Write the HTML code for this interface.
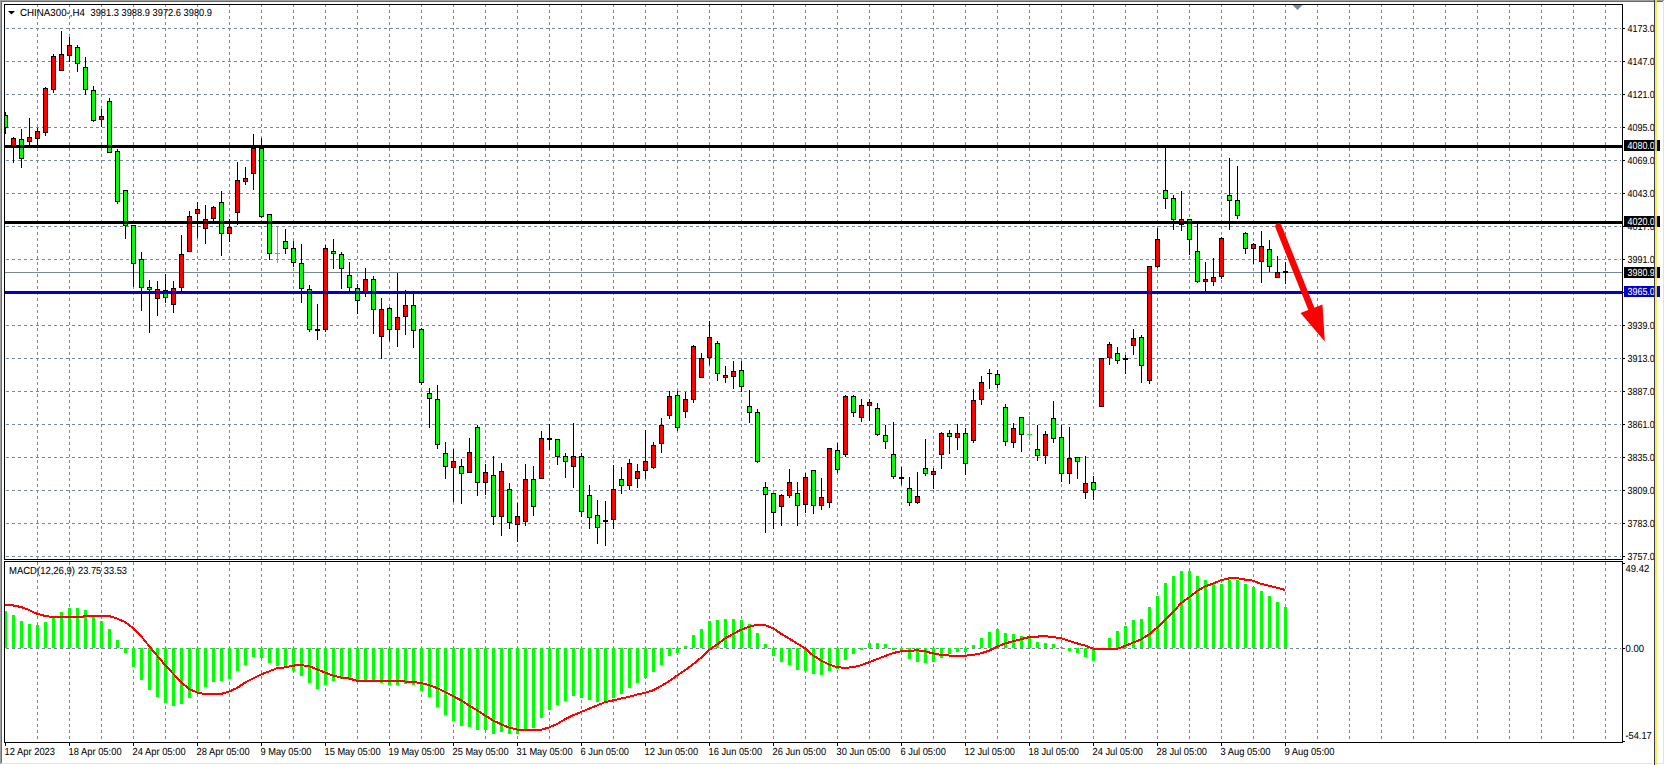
<!DOCTYPE html>
<html><head><meta charset="utf-8"><style>
html,body{margin:0;padding:0;background:#fff;}
body{width:1665px;height:765px;overflow:hidden;position:relative;}
</style></head><body>
<svg width="1665" height="765" viewBox="0 0 1665 765" shape-rendering="crispEdges" style="position:absolute;left:0;top:0"><rect x="0" y="0" width="1665" height="765" fill="#ffffff"/><defs><clipPath id="cm"><rect x="5" y="5" width="1617" height="554"/></clipPath><clipPath id="cd"><rect x="5" y="562" width="1617" height="180"/></clipPath><clipPath id="cax"><rect x="1623" y="0" width="31" height="765"/></clipPath></defs><g clip-path="url(#cm)"><line x1="37.5" y1="4" x2="37.5" y2="559" stroke="#778899" stroke-width="1" stroke-dasharray="3 3"/><line x1="69.5" y1="4" x2="69.5" y2="559" stroke="#778899" stroke-width="1" stroke-dasharray="3 3"/><line x1="101.5" y1="4" x2="101.5" y2="559" stroke="#778899" stroke-width="1" stroke-dasharray="3 3"/><line x1="133.5" y1="4" x2="133.5" y2="559" stroke="#778899" stroke-width="1" stroke-dasharray="3 3"/><line x1="165.5" y1="4" x2="165.5" y2="559" stroke="#778899" stroke-width="1" stroke-dasharray="3 3"/><line x1="197.5" y1="4" x2="197.5" y2="559" stroke="#778899" stroke-width="1" stroke-dasharray="3 3"/><line x1="229.5" y1="4" x2="229.5" y2="559" stroke="#778899" stroke-width="1" stroke-dasharray="3 3"/><line x1="261.5" y1="4" x2="261.5" y2="559" stroke="#778899" stroke-width="1" stroke-dasharray="3 3"/><line x1="293.5" y1="4" x2="293.5" y2="559" stroke="#778899" stroke-width="1" stroke-dasharray="3 3"/><line x1="325.5" y1="4" x2="325.5" y2="559" stroke="#778899" stroke-width="1" stroke-dasharray="3 3"/><line x1="357.5" y1="4" x2="357.5" y2="559" stroke="#778899" stroke-width="1" stroke-dasharray="3 3"/><line x1="389.5" y1="4" x2="389.5" y2="559" stroke="#778899" stroke-width="1" stroke-dasharray="3 3"/><line x1="421.5" y1="4" x2="421.5" y2="559" stroke="#778899" stroke-width="1" stroke-dasharray="3 3"/><line x1="453.5" y1="4" x2="453.5" y2="559" stroke="#778899" stroke-width="1" stroke-dasharray="3 3"/><line x1="485.5" y1="4" x2="485.5" y2="559" stroke="#778899" stroke-width="1" stroke-dasharray="3 3"/><line x1="517.5" y1="4" x2="517.5" y2="559" stroke="#778899" stroke-width="1" stroke-dasharray="3 3"/><line x1="549.5" y1="4" x2="549.5" y2="559" stroke="#778899" stroke-width="1" stroke-dasharray="3 3"/><line x1="581.5" y1="4" x2="581.5" y2="559" stroke="#778899" stroke-width="1" stroke-dasharray="3 3"/><line x1="613.5" y1="4" x2="613.5" y2="559" stroke="#778899" stroke-width="1" stroke-dasharray="3 3"/><line x1="645.5" y1="4" x2="645.5" y2="559" stroke="#778899" stroke-width="1" stroke-dasharray="3 3"/><line x1="677.5" y1="4" x2="677.5" y2="559" stroke="#778899" stroke-width="1" stroke-dasharray="3 3"/><line x1="709.5" y1="4" x2="709.5" y2="559" stroke="#778899" stroke-width="1" stroke-dasharray="3 3"/><line x1="741.5" y1="4" x2="741.5" y2="559" stroke="#778899" stroke-width="1" stroke-dasharray="3 3"/><line x1="773.5" y1="4" x2="773.5" y2="559" stroke="#778899" stroke-width="1" stroke-dasharray="3 3"/><line x1="805.5" y1="4" x2="805.5" y2="559" stroke="#778899" stroke-width="1" stroke-dasharray="3 3"/><line x1="837.5" y1="4" x2="837.5" y2="559" stroke="#778899" stroke-width="1" stroke-dasharray="3 3"/><line x1="869.5" y1="4" x2="869.5" y2="559" stroke="#778899" stroke-width="1" stroke-dasharray="3 3"/><line x1="901.5" y1="4" x2="901.5" y2="559" stroke="#778899" stroke-width="1" stroke-dasharray="3 3"/><line x1="933.5" y1="4" x2="933.5" y2="559" stroke="#778899" stroke-width="1" stroke-dasharray="3 3"/><line x1="965.5" y1="4" x2="965.5" y2="559" stroke="#778899" stroke-width="1" stroke-dasharray="3 3"/><line x1="997.5" y1="4" x2="997.5" y2="559" stroke="#778899" stroke-width="1" stroke-dasharray="3 3"/><line x1="1029.5" y1="4" x2="1029.5" y2="559" stroke="#778899" stroke-width="1" stroke-dasharray="3 3"/><line x1="1061.5" y1="4" x2="1061.5" y2="559" stroke="#778899" stroke-width="1" stroke-dasharray="3 3"/><line x1="1093.5" y1="4" x2="1093.5" y2="559" stroke="#778899" stroke-width="1" stroke-dasharray="3 3"/><line x1="1125.5" y1="4" x2="1125.5" y2="559" stroke="#778899" stroke-width="1" stroke-dasharray="3 3"/><line x1="1157.5" y1="4" x2="1157.5" y2="559" stroke="#778899" stroke-width="1" stroke-dasharray="3 3"/><line x1="1189.5" y1="4" x2="1189.5" y2="559" stroke="#778899" stroke-width="1" stroke-dasharray="3 3"/><line x1="1221.5" y1="4" x2="1221.5" y2="559" stroke="#778899" stroke-width="1" stroke-dasharray="3 3"/><line x1="1253.5" y1="4" x2="1253.5" y2="559" stroke="#778899" stroke-width="1" stroke-dasharray="3 3"/><line x1="1285.5" y1="4" x2="1285.5" y2="559" stroke="#778899" stroke-width="1" stroke-dasharray="3 3"/><line x1="1317.5" y1="4" x2="1317.5" y2="559" stroke="#778899" stroke-width="1" stroke-dasharray="3 3"/><line x1="1349.5" y1="4" x2="1349.5" y2="559" stroke="#778899" stroke-width="1" stroke-dasharray="3 3"/><line x1="1381.5" y1="4" x2="1381.5" y2="559" stroke="#778899" stroke-width="1" stroke-dasharray="3 3"/><line x1="1413.5" y1="4" x2="1413.5" y2="559" stroke="#778899" stroke-width="1" stroke-dasharray="3 3"/><line x1="1445.5" y1="4" x2="1445.5" y2="559" stroke="#778899" stroke-width="1" stroke-dasharray="3 3"/><line x1="1477.5" y1="4" x2="1477.5" y2="559" stroke="#778899" stroke-width="1" stroke-dasharray="3 3"/><line x1="1509.5" y1="4" x2="1509.5" y2="559" stroke="#778899" stroke-width="1" stroke-dasharray="3 3"/><line x1="1541.5" y1="4" x2="1541.5" y2="559" stroke="#778899" stroke-width="1" stroke-dasharray="3 3"/><line x1="1573.5" y1="4" x2="1573.5" y2="559" stroke="#778899" stroke-width="1" stroke-dasharray="3 3"/><line x1="1605.5" y1="4" x2="1605.5" y2="559" stroke="#778899" stroke-width="1" stroke-dasharray="3 3"/><line x1="0" y1="28.5" x2="1621" y2="28.5" stroke="#778899" stroke-width="1" stroke-dasharray="3 3"/><line x1="0" y1="61.5" x2="1621" y2="61.5" stroke="#778899" stroke-width="1" stroke-dasharray="3 3"/><line x1="0" y1="94.5" x2="1621" y2="94.5" stroke="#778899" stroke-width="1" stroke-dasharray="3 3"/><line x1="0" y1="127.5" x2="1621" y2="127.5" stroke="#778899" stroke-width="1" stroke-dasharray="3 3"/><line x1="0" y1="160.5" x2="1621" y2="160.5" stroke="#778899" stroke-width="1" stroke-dasharray="3 3"/><line x1="0" y1="193.5" x2="1621" y2="193.5" stroke="#778899" stroke-width="1" stroke-dasharray="3 3"/><line x1="0" y1="226.5" x2="1621" y2="226.5" stroke="#778899" stroke-width="1" stroke-dasharray="3 3"/><line x1="0" y1="259.5" x2="1621" y2="259.5" stroke="#778899" stroke-width="1" stroke-dasharray="3 3"/><line x1="0" y1="292.5" x2="1621" y2="292.5" stroke="#778899" stroke-width="1" stroke-dasharray="3 3"/><line x1="0" y1="325.5" x2="1621" y2="325.5" stroke="#778899" stroke-width="1" stroke-dasharray="3 3"/><line x1="0" y1="358.5" x2="1621" y2="358.5" stroke="#778899" stroke-width="1" stroke-dasharray="3 3"/><line x1="0" y1="391.5" x2="1621" y2="391.5" stroke="#778899" stroke-width="1" stroke-dasharray="3 3"/><line x1="0" y1="424.5" x2="1621" y2="424.5" stroke="#778899" stroke-width="1" stroke-dasharray="3 3"/><line x1="0" y1="457.5" x2="1621" y2="457.5" stroke="#778899" stroke-width="1" stroke-dasharray="3 3"/><line x1="0" y1="490.5" x2="1621" y2="490.5" stroke="#778899" stroke-width="1" stroke-dasharray="3 3"/><line x1="0" y1="523.5" x2="1621" y2="523.5" stroke="#778899" stroke-width="1" stroke-dasharray="3 3"/><line x1="0" y1="556.5" x2="1621" y2="556.5" stroke="#778899" stroke-width="1" stroke-dasharray="3 3"/></g><g clip-path="url(#cd)"><line x1="37.5" y1="562" x2="37.5" y2="742" stroke="#778899" stroke-width="1" stroke-dasharray="3 3"/><line x1="69.5" y1="562" x2="69.5" y2="742" stroke="#778899" stroke-width="1" stroke-dasharray="3 3"/><line x1="101.5" y1="562" x2="101.5" y2="742" stroke="#778899" stroke-width="1" stroke-dasharray="3 3"/><line x1="133.5" y1="562" x2="133.5" y2="742" stroke="#778899" stroke-width="1" stroke-dasharray="3 3"/><line x1="165.5" y1="562" x2="165.5" y2="742" stroke="#778899" stroke-width="1" stroke-dasharray="3 3"/><line x1="197.5" y1="562" x2="197.5" y2="742" stroke="#778899" stroke-width="1" stroke-dasharray="3 3"/><line x1="229.5" y1="562" x2="229.5" y2="742" stroke="#778899" stroke-width="1" stroke-dasharray="3 3"/><line x1="261.5" y1="562" x2="261.5" y2="742" stroke="#778899" stroke-width="1" stroke-dasharray="3 3"/><line x1="293.5" y1="562" x2="293.5" y2="742" stroke="#778899" stroke-width="1" stroke-dasharray="3 3"/><line x1="325.5" y1="562" x2="325.5" y2="742" stroke="#778899" stroke-width="1" stroke-dasharray="3 3"/><line x1="357.5" y1="562" x2="357.5" y2="742" stroke="#778899" stroke-width="1" stroke-dasharray="3 3"/><line x1="389.5" y1="562" x2="389.5" y2="742" stroke="#778899" stroke-width="1" stroke-dasharray="3 3"/><line x1="421.5" y1="562" x2="421.5" y2="742" stroke="#778899" stroke-width="1" stroke-dasharray="3 3"/><line x1="453.5" y1="562" x2="453.5" y2="742" stroke="#778899" stroke-width="1" stroke-dasharray="3 3"/><line x1="485.5" y1="562" x2="485.5" y2="742" stroke="#778899" stroke-width="1" stroke-dasharray="3 3"/><line x1="517.5" y1="562" x2="517.5" y2="742" stroke="#778899" stroke-width="1" stroke-dasharray="3 3"/><line x1="549.5" y1="562" x2="549.5" y2="742" stroke="#778899" stroke-width="1" stroke-dasharray="3 3"/><line x1="581.5" y1="562" x2="581.5" y2="742" stroke="#778899" stroke-width="1" stroke-dasharray="3 3"/><line x1="613.5" y1="562" x2="613.5" y2="742" stroke="#778899" stroke-width="1" stroke-dasharray="3 3"/><line x1="645.5" y1="562" x2="645.5" y2="742" stroke="#778899" stroke-width="1" stroke-dasharray="3 3"/><line x1="677.5" y1="562" x2="677.5" y2="742" stroke="#778899" stroke-width="1" stroke-dasharray="3 3"/><line x1="709.5" y1="562" x2="709.5" y2="742" stroke="#778899" stroke-width="1" stroke-dasharray="3 3"/><line x1="741.5" y1="562" x2="741.5" y2="742" stroke="#778899" stroke-width="1" stroke-dasharray="3 3"/><line x1="773.5" y1="562" x2="773.5" y2="742" stroke="#778899" stroke-width="1" stroke-dasharray="3 3"/><line x1="805.5" y1="562" x2="805.5" y2="742" stroke="#778899" stroke-width="1" stroke-dasharray="3 3"/><line x1="837.5" y1="562" x2="837.5" y2="742" stroke="#778899" stroke-width="1" stroke-dasharray="3 3"/><line x1="869.5" y1="562" x2="869.5" y2="742" stroke="#778899" stroke-width="1" stroke-dasharray="3 3"/><line x1="901.5" y1="562" x2="901.5" y2="742" stroke="#778899" stroke-width="1" stroke-dasharray="3 3"/><line x1="933.5" y1="562" x2="933.5" y2="742" stroke="#778899" stroke-width="1" stroke-dasharray="3 3"/><line x1="965.5" y1="562" x2="965.5" y2="742" stroke="#778899" stroke-width="1" stroke-dasharray="3 3"/><line x1="997.5" y1="562" x2="997.5" y2="742" stroke="#778899" stroke-width="1" stroke-dasharray="3 3"/><line x1="1029.5" y1="562" x2="1029.5" y2="742" stroke="#778899" stroke-width="1" stroke-dasharray="3 3"/><line x1="1061.5" y1="562" x2="1061.5" y2="742" stroke="#778899" stroke-width="1" stroke-dasharray="3 3"/><line x1="1093.5" y1="562" x2="1093.5" y2="742" stroke="#778899" stroke-width="1" stroke-dasharray="3 3"/><line x1="1125.5" y1="562" x2="1125.5" y2="742" stroke="#778899" stroke-width="1" stroke-dasharray="3 3"/><line x1="1157.5" y1="562" x2="1157.5" y2="742" stroke="#778899" stroke-width="1" stroke-dasharray="3 3"/><line x1="1189.5" y1="562" x2="1189.5" y2="742" stroke="#778899" stroke-width="1" stroke-dasharray="3 3"/><line x1="1221.5" y1="562" x2="1221.5" y2="742" stroke="#778899" stroke-width="1" stroke-dasharray="3 3"/><line x1="1253.5" y1="562" x2="1253.5" y2="742" stroke="#778899" stroke-width="1" stroke-dasharray="3 3"/><line x1="1285.5" y1="562" x2="1285.5" y2="742" stroke="#778899" stroke-width="1" stroke-dasharray="3 3"/><line x1="1317.5" y1="562" x2="1317.5" y2="742" stroke="#778899" stroke-width="1" stroke-dasharray="3 3"/><line x1="1349.5" y1="562" x2="1349.5" y2="742" stroke="#778899" stroke-width="1" stroke-dasharray="3 3"/><line x1="1381.5" y1="562" x2="1381.5" y2="742" stroke="#778899" stroke-width="1" stroke-dasharray="3 3"/><line x1="1413.5" y1="562" x2="1413.5" y2="742" stroke="#778899" stroke-width="1" stroke-dasharray="3 3"/><line x1="1445.5" y1="562" x2="1445.5" y2="742" stroke="#778899" stroke-width="1" stroke-dasharray="3 3"/><line x1="1477.5" y1="562" x2="1477.5" y2="742" stroke="#778899" stroke-width="1" stroke-dasharray="3 3"/><line x1="1509.5" y1="562" x2="1509.5" y2="742" stroke="#778899" stroke-width="1" stroke-dasharray="3 3"/><line x1="1541.5" y1="562" x2="1541.5" y2="742" stroke="#778899" stroke-width="1" stroke-dasharray="3 3"/><line x1="1573.5" y1="562" x2="1573.5" y2="742" stroke="#778899" stroke-width="1" stroke-dasharray="3 3"/><line x1="1605.5" y1="562" x2="1605.5" y2="742" stroke="#778899" stroke-width="1" stroke-dasharray="3 3"/><line x1="0" y1="648.5" x2="1621" y2="648.5" stroke="#778899" stroke-width="1" stroke-dasharray="3 3"/></g><rect x="5" y="272" width="1617" height="1" fill="#778899"/><g clip-path="url(#cm)"><rect x="5" y="112" width="1" height="22" fill="#000"/><rect x="3" y="115" width="5" height="13" fill="#000"/><rect x="4" y="116" width="3" height="11" fill="#00ff00"/><rect x="13" y="137" width="1" height="26" fill="#000"/><rect x="11" y="138" width="5" height="8" fill="#000"/><rect x="12" y="139" width="3" height="6" fill="#ff0000"/><rect x="21" y="129" width="1" height="39" fill="#000"/><rect x="19" y="139" width="5" height="20" fill="#000"/><rect x="20" y="140" width="3" height="18" fill="#00ff00"/><rect x="29" y="118" width="1" height="28" fill="#000"/><rect x="27" y="137" width="5" height="5" fill="#000"/><rect x="28" y="138" width="3" height="3" fill="#ff0000"/><rect x="37" y="128" width="1" height="18" fill="#000"/><rect x="35" y="131" width="5" height="8" fill="#000"/><rect x="36" y="132" width="3" height="6" fill="#ff0000"/><rect x="45" y="87" width="1" height="49" fill="#000"/><rect x="43" y="88" width="5" height="45" fill="#000"/><rect x="44" y="89" width="3" height="43" fill="#ff0000"/><rect x="53" y="54" width="1" height="39" fill="#000"/><rect x="51" y="56" width="5" height="34" fill="#000"/><rect x="52" y="57" width="3" height="32" fill="#ff0000"/><rect x="61" y="31" width="1" height="40" fill="#000"/><rect x="59" y="54" width="5" height="17" fill="#000"/><rect x="60" y="55" width="3" height="15" fill="#ff0000"/><rect x="69" y="37" width="1" height="25" fill="#000"/><rect x="67" y="45" width="5" height="11" fill="#000"/><rect x="68" y="46" width="3" height="9" fill="#ff0000"/><rect x="77" y="45" width="1" height="27" fill="#000"/><rect x="75" y="47" width="5" height="17" fill="#000"/><rect x="76" y="48" width="3" height="15" fill="#00ff00"/><rect x="85" y="57" width="1" height="38" fill="#000"/><rect x="83" y="67" width="5" height="23" fill="#000"/><rect x="84" y="68" width="3" height="21" fill="#00ff00"/><rect x="93" y="86" width="1" height="36" fill="#000"/><rect x="91" y="90" width="5" height="31" fill="#000"/><rect x="92" y="91" width="3" height="29" fill="#00ff00"/><rect x="101" y="109" width="1" height="18" fill="#000"/><rect x="99" y="116" width="5" height="4" fill="#000"/><rect x="100" y="117" width="3" height="2" fill="#ff0000"/><rect x="109" y="98" width="1" height="55" fill="#000"/><rect x="107" y="101" width="5" height="52" fill="#000"/><rect x="108" y="102" width="3" height="50" fill="#00ff00"/><rect x="117" y="149" width="1" height="55" fill="#000"/><rect x="115" y="151" width="5" height="51" fill="#000"/><rect x="116" y="152" width="3" height="49" fill="#00ff00"/><rect x="125" y="190" width="1" height="49" fill="#000"/><rect x="123" y="190" width="5" height="36" fill="#000"/><rect x="124" y="191" width="3" height="34" fill="#00ff00"/><rect x="133" y="225" width="1" height="62" fill="#000"/><rect x="131" y="225" width="5" height="39" fill="#000"/><rect x="132" y="226" width="3" height="37" fill="#00ff00"/><rect x="141" y="252" width="1" height="59" fill="#000"/><rect x="139" y="259" width="5" height="29" fill="#000"/><rect x="140" y="260" width="3" height="27" fill="#00ff00"/><rect x="149" y="280" width="1" height="53" fill="#000"/><rect x="147" y="287" width="5" height="3" fill="#000"/><rect x="148" y="288" width="3" height="1" fill="#00ff00"/><rect x="157" y="281" width="1" height="35" fill="#000"/><rect x="155" y="289" width="5" height="10" fill="#000"/><rect x="156" y="290" width="3" height="8" fill="#ff0000"/><rect x="165" y="274" width="1" height="29" fill="#000"/><rect x="163" y="290" width="5" height="8" fill="#000"/><rect x="164" y="291" width="3" height="6" fill="#00ff00"/><rect x="173" y="281" width="1" height="32" fill="#000"/><rect x="171" y="288" width="5" height="17" fill="#000"/><rect x="172" y="289" width="3" height="15" fill="#ff0000"/><rect x="181" y="235" width="1" height="58" fill="#000"/><rect x="179" y="254" width="5" height="34" fill="#000"/><rect x="180" y="255" width="3" height="32" fill="#ff0000"/><rect x="189" y="211" width="1" height="41" fill="#000"/><rect x="187" y="216" width="5" height="36" fill="#000"/><rect x="188" y="217" width="3" height="34" fill="#ff0000"/><rect x="197" y="202" width="1" height="36" fill="#000"/><rect x="195" y="209" width="5" height="5" fill="#000"/><rect x="196" y="210" width="3" height="3" fill="#ff0000"/><rect x="205" y="205" width="1" height="39" fill="#000"/><rect x="203" y="219" width="5" height="10" fill="#000"/><rect x="204" y="220" width="3" height="8" fill="#ff0000"/><rect x="213" y="206" width="1" height="15" fill="#000"/><rect x="211" y="207" width="5" height="12" fill="#000"/><rect x="212" y="208" width="3" height="10" fill="#ff0000"/><rect x="221" y="191" width="1" height="65" fill="#000"/><rect x="219" y="202" width="5" height="32" fill="#000"/><rect x="220" y="203" width="3" height="30" fill="#00ff00"/><rect x="229" y="219" width="1" height="23" fill="#000"/><rect x="227" y="227" width="5" height="7" fill="#000"/><rect x="228" y="228" width="3" height="5" fill="#ff0000"/><rect x="237" y="162" width="1" height="63" fill="#000"/><rect x="235" y="180" width="5" height="33" fill="#000"/><rect x="236" y="181" width="3" height="31" fill="#ff0000"/><rect x="245" y="167" width="1" height="18" fill="#000"/><rect x="243" y="178" width="5" height="4" fill="#000"/><rect x="244" y="179" width="3" height="2" fill="#ff0000"/><rect x="253" y="134" width="1" height="56" fill="#000"/><rect x="251" y="148" width="5" height="26" fill="#000"/><rect x="252" y="149" width="3" height="24" fill="#ff0000"/><rect x="261" y="138" width="1" height="80" fill="#000"/><rect x="259" y="148" width="5" height="69" fill="#000"/><rect x="260" y="149" width="3" height="67" fill="#00ff00"/><rect x="269" y="214" width="1" height="46" fill="#000"/><rect x="267" y="214" width="5" height="40" fill="#000"/><rect x="268" y="215" width="3" height="38" fill="#00ff00"/><rect x="277" y="226" width="1" height="37" fill="#00ff00"/><rect x="275" y="253" width="5" height="1" fill="#00ff00"/><rect x="285" y="229" width="1" height="25" fill="#000"/><rect x="283" y="241" width="5" height="8" fill="#000"/><rect x="284" y="242" width="3" height="6" fill="#00ff00"/><rect x="293" y="241" width="1" height="26" fill="#000"/><rect x="291" y="248" width="5" height="15" fill="#000"/><rect x="292" y="249" width="3" height="13" fill="#00ff00"/><rect x="301" y="244" width="1" height="59" fill="#000"/><rect x="299" y="263" width="5" height="26" fill="#000"/><rect x="300" y="264" width="3" height="24" fill="#00ff00"/><rect x="309" y="285" width="1" height="47" fill="#000"/><rect x="307" y="289" width="5" height="41" fill="#000"/><rect x="308" y="290" width="3" height="39" fill="#00ff00"/><rect x="317" y="304" width="1" height="36" fill="#000"/><rect x="315" y="329" width="5" height="2" fill="#000"/><rect x="325" y="245" width="1" height="87" fill="#000"/><rect x="323" y="248" width="5" height="82" fill="#000"/><rect x="324" y="249" width="3" height="80" fill="#ff0000"/><rect x="333" y="239" width="1" height="30" fill="#000"/><rect x="331" y="251" width="5" height="3" fill="#000"/><rect x="332" y="252" width="3" height="1" fill="#00ff00"/><rect x="341" y="252" width="1" height="37" fill="#000"/><rect x="339" y="254" width="5" height="15" fill="#000"/><rect x="340" y="255" width="3" height="13" fill="#00ff00"/><rect x="349" y="262" width="1" height="30" fill="#000"/><rect x="347" y="275" width="5" height="13" fill="#000"/><rect x="348" y="276" width="3" height="11" fill="#00ff00"/><rect x="357" y="284" width="1" height="30" fill="#000"/><rect x="355" y="288" width="5" height="13" fill="#000"/><rect x="356" y="289" width="3" height="11" fill="#00ff00"/><rect x="365" y="268" width="1" height="29" fill="#000"/><rect x="363" y="279" width="5" height="13" fill="#000"/><rect x="364" y="280" width="3" height="11" fill="#ff0000"/><rect x="373" y="276" width="1" height="58" fill="#000"/><rect x="371" y="279" width="5" height="31" fill="#000"/><rect x="372" y="280" width="3" height="29" fill="#00ff00"/><rect x="381" y="298" width="1" height="61" fill="#000"/><rect x="379" y="309" width="5" height="28" fill="#000"/><rect x="380" y="310" width="3" height="26" fill="#ff0000"/><rect x="389" y="307" width="1" height="34" fill="#000"/><rect x="387" y="308" width="5" height="22" fill="#000"/><rect x="388" y="309" width="3" height="20" fill="#00ff00"/><rect x="397" y="273" width="1" height="74" fill="#000"/><rect x="395" y="317" width="5" height="13" fill="#000"/><rect x="396" y="318" width="3" height="11" fill="#ff0000"/><rect x="405" y="290" width="1" height="45" fill="#000"/><rect x="403" y="305" width="5" height="12" fill="#000"/><rect x="404" y="306" width="3" height="10" fill="#ff0000"/><rect x="413" y="292" width="1" height="56" fill="#000"/><rect x="411" y="305" width="5" height="26" fill="#000"/><rect x="412" y="306" width="3" height="24" fill="#00ff00"/><rect x="421" y="328" width="1" height="57" fill="#000"/><rect x="419" y="329" width="5" height="54" fill="#000"/><rect x="420" y="330" width="3" height="52" fill="#00ff00"/><rect x="429" y="388" width="1" height="40" fill="#000"/><rect x="427" y="393" width="5" height="6" fill="#000"/><rect x="428" y="394" width="3" height="4" fill="#00ff00"/><rect x="437" y="385" width="1" height="64" fill="#000"/><rect x="435" y="399" width="5" height="46" fill="#000"/><rect x="436" y="400" width="3" height="44" fill="#00ff00"/><rect x="445" y="442" width="1" height="37" fill="#000"/><rect x="443" y="453" width="5" height="14" fill="#000"/><rect x="444" y="454" width="3" height="12" fill="#00ff00"/><rect x="453" y="449" width="1" height="53" fill="#000"/><rect x="451" y="461" width="5" height="7" fill="#000"/><rect x="452" y="462" width="3" height="5" fill="#ff0000"/><rect x="461" y="459" width="1" height="45" fill="#000"/><rect x="459" y="466" width="5" height="8" fill="#000"/><rect x="460" y="467" width="3" height="6" fill="#00ff00"/><rect x="469" y="438" width="1" height="35" fill="#000"/><rect x="467" y="452" width="5" height="21" fill="#000"/><rect x="468" y="453" width="3" height="19" fill="#ff0000"/><rect x="477" y="425" width="1" height="71" fill="#000"/><rect x="475" y="427" width="5" height="56" fill="#000"/><rect x="476" y="428" width="3" height="54" fill="#00ff00"/><rect x="485" y="464" width="1" height="31" fill="#000"/><rect x="483" y="472" width="5" height="11" fill="#000"/><rect x="484" y="473" width="3" height="9" fill="#ff0000"/><rect x="493" y="456" width="1" height="69" fill="#000"/><rect x="491" y="475" width="5" height="42" fill="#000"/><rect x="492" y="476" width="3" height="40" fill="#00ff00"/><rect x="501" y="463" width="1" height="73" fill="#000"/><rect x="499" y="471" width="5" height="46" fill="#000"/><rect x="500" y="472" width="3" height="44" fill="#ff0000"/><rect x="509" y="483" width="1" height="46" fill="#000"/><rect x="507" y="489" width="5" height="34" fill="#000"/><rect x="508" y="490" width="3" height="32" fill="#00ff00"/><rect x="517" y="503" width="1" height="39" fill="#000"/><rect x="515" y="516" width="5" height="9" fill="#000"/><rect x="516" y="517" width="3" height="7" fill="#ff0000"/><rect x="525" y="464" width="1" height="62" fill="#000"/><rect x="523" y="479" width="5" height="43" fill="#000"/><rect x="524" y="480" width="3" height="41" fill="#ff0000"/><rect x="533" y="466" width="1" height="50" fill="#000"/><rect x="531" y="479" width="5" height="28" fill="#000"/><rect x="532" y="480" width="3" height="26" fill="#00ff00"/><rect x="541" y="431" width="1" height="48" fill="#000"/><rect x="539" y="438" width="5" height="41" fill="#000"/><rect x="540" y="439" width="3" height="39" fill="#ff0000"/><rect x="549" y="424" width="1" height="26" fill="#000"/><rect x="547" y="438" width="5" height="2" fill="#000"/><rect x="557" y="439" width="1" height="26" fill="#000"/><rect x="555" y="439" width="5" height="18" fill="#000"/><rect x="556" y="440" width="3" height="16" fill="#00ff00"/><rect x="565" y="453" width="1" height="25" fill="#000"/><rect x="563" y="456" width="5" height="6" fill="#000"/><rect x="564" y="457" width="3" height="4" fill="#00ff00"/><rect x="573" y="423" width="1" height="65" fill="#000"/><rect x="571" y="456" width="5" height="11" fill="#000"/><rect x="572" y="457" width="3" height="9" fill="#ff0000"/><rect x="581" y="453" width="1" height="64" fill="#000"/><rect x="579" y="456" width="5" height="56" fill="#000"/><rect x="580" y="457" width="3" height="54" fill="#00ff00"/><rect x="589" y="485" width="1" height="44" fill="#000"/><rect x="587" y="495" width="5" height="23" fill="#000"/><rect x="588" y="496" width="3" height="21" fill="#00ff00"/><rect x="597" y="500" width="1" height="44" fill="#000"/><rect x="595" y="515" width="5" height="13" fill="#000"/><rect x="596" y="516" width="3" height="11" fill="#00ff00"/><rect x="605" y="501" width="1" height="45" fill="#000"/><rect x="603" y="520" width="5" height="2" fill="#000"/><rect x="613" y="465" width="1" height="64" fill="#000"/><rect x="611" y="489" width="5" height="31" fill="#000"/><rect x="612" y="490" width="3" height="29" fill="#ff0000"/><rect x="621" y="467" width="1" height="27" fill="#000"/><rect x="619" y="479" width="5" height="7" fill="#000"/><rect x="620" y="480" width="3" height="5" fill="#00ff00"/><rect x="629" y="459" width="1" height="31" fill="#000"/><rect x="627" y="463" width="5" height="23" fill="#000"/><rect x="628" y="464" width="3" height="21" fill="#ff0000"/><rect x="637" y="464" width="1" height="24" fill="#000"/><rect x="635" y="471" width="5" height="8" fill="#000"/><rect x="636" y="472" width="3" height="6" fill="#ff0000"/><rect x="645" y="430" width="1" height="49" fill="#000"/><rect x="643" y="461" width="5" height="10" fill="#000"/><rect x="644" y="462" width="3" height="8" fill="#ff0000"/><rect x="653" y="442" width="1" height="27" fill="#000"/><rect x="651" y="445" width="5" height="23" fill="#000"/><rect x="652" y="446" width="3" height="21" fill="#ff0000"/><rect x="661" y="418" width="1" height="35" fill="#000"/><rect x="659" y="425" width="5" height="19" fill="#000"/><rect x="660" y="426" width="3" height="17" fill="#ff0000"/><rect x="669" y="391" width="1" height="28" fill="#000"/><rect x="667" y="396" width="5" height="20" fill="#000"/><rect x="668" y="397" width="3" height="18" fill="#ff0000"/><rect x="677" y="391" width="1" height="40" fill="#000"/><rect x="675" y="395" width="5" height="33" fill="#000"/><rect x="676" y="396" width="3" height="31" fill="#00ff00"/><rect x="685" y="392" width="1" height="26" fill="#000"/><rect x="683" y="399" width="5" height="13" fill="#000"/><rect x="684" y="400" width="3" height="11" fill="#ff0000"/><rect x="693" y="345" width="1" height="58" fill="#000"/><rect x="691" y="346" width="5" height="54" fill="#000"/><rect x="692" y="347" width="3" height="52" fill="#ff0000"/><rect x="701" y="353" width="1" height="25" fill="#000"/><rect x="699" y="358" width="5" height="20" fill="#000"/><rect x="700" y="359" width="3" height="18" fill="#ff0000"/><rect x="709" y="321" width="1" height="44" fill="#000"/><rect x="707" y="337" width="5" height="21" fill="#000"/><rect x="708" y="338" width="3" height="19" fill="#ff0000"/><rect x="717" y="341" width="1" height="40" fill="#000"/><rect x="715" y="343" width="5" height="31" fill="#000"/><rect x="716" y="344" width="3" height="29" fill="#00ff00"/><rect x="725" y="366" width="1" height="17" fill="#000"/><rect x="723" y="375" width="5" height="3" fill="#000"/><rect x="724" y="376" width="3" height="1" fill="#ff0000"/><rect x="733" y="361" width="1" height="28" fill="#000"/><rect x="731" y="371" width="5" height="6" fill="#000"/><rect x="732" y="372" width="3" height="4" fill="#ff0000"/><rect x="741" y="361" width="1" height="31" fill="#000"/><rect x="739" y="370" width="5" height="17" fill="#000"/><rect x="740" y="371" width="3" height="15" fill="#00ff00"/><rect x="749" y="390" width="1" height="33" fill="#000"/><rect x="747" y="406" width="5" height="7" fill="#000"/><rect x="748" y="407" width="3" height="5" fill="#00ff00"/><rect x="757" y="409" width="1" height="54" fill="#000"/><rect x="755" y="412" width="5" height="50" fill="#000"/><rect x="756" y="413" width="3" height="48" fill="#00ff00"/><rect x="765" y="482" width="1" height="51" fill="#000"/><rect x="763" y="487" width="5" height="8" fill="#000"/><rect x="764" y="488" width="3" height="6" fill="#00ff00"/><rect x="773" y="493" width="1" height="36" fill="#000"/><rect x="771" y="493" width="5" height="20" fill="#000"/><rect x="772" y="494" width="3" height="18" fill="#00ff00"/><rect x="781" y="494" width="1" height="32" fill="#000"/><rect x="779" y="495" width="5" height="12" fill="#000"/><rect x="780" y="496" width="3" height="10" fill="#ff0000"/><rect x="789" y="469" width="1" height="29" fill="#000"/><rect x="787" y="482" width="5" height="14" fill="#000"/><rect x="788" y="483" width="3" height="12" fill="#ff0000"/><rect x="797" y="482" width="1" height="44" fill="#000"/><rect x="795" y="493" width="5" height="13" fill="#000"/><rect x="796" y="494" width="3" height="11" fill="#00ff00"/><rect x="805" y="473" width="1" height="40" fill="#000"/><rect x="803" y="477" width="5" height="28" fill="#000"/><rect x="804" y="478" width="3" height="26" fill="#ff0000"/><rect x="813" y="470" width="1" height="44" fill="#000"/><rect x="811" y="470" width="5" height="36" fill="#000"/><rect x="812" y="471" width="3" height="34" fill="#00ff00"/><rect x="821" y="478" width="1" height="32" fill="#000"/><rect x="819" y="497" width="5" height="9" fill="#000"/><rect x="820" y="498" width="3" height="7" fill="#ff0000"/><rect x="829" y="448" width="1" height="60" fill="#000"/><rect x="827" y="448" width="5" height="55" fill="#000"/><rect x="828" y="449" width="3" height="53" fill="#ff0000"/><rect x="837" y="443" width="1" height="30" fill="#000"/><rect x="835" y="450" width="5" height="20" fill="#000"/><rect x="836" y="451" width="3" height="18" fill="#00ff00"/><rect x="845" y="395" width="1" height="62" fill="#000"/><rect x="843" y="396" width="5" height="59" fill="#000"/><rect x="844" y="397" width="3" height="57" fill="#ff0000"/><rect x="853" y="395" width="1" height="22" fill="#000"/><rect x="851" y="396" width="5" height="17" fill="#000"/><rect x="852" y="397" width="3" height="15" fill="#00ff00"/><rect x="861" y="399" width="1" height="23" fill="#000"/><rect x="859" y="405" width="5" height="13" fill="#000"/><rect x="860" y="406" width="3" height="11" fill="#ff0000"/><rect x="869" y="399" width="1" height="22" fill="#000"/><rect x="867" y="402" width="5" height="4" fill="#000"/><rect x="868" y="403" width="3" height="2" fill="#ff0000"/><rect x="877" y="403" width="1" height="33" fill="#000"/><rect x="875" y="408" width="5" height="27" fill="#000"/><rect x="876" y="409" width="3" height="25" fill="#00ff00"/><rect x="885" y="425" width="1" height="24" fill="#000"/><rect x="883" y="435" width="5" height="7" fill="#000"/><rect x="884" y="436" width="3" height="5" fill="#00ff00"/><rect x="893" y="422" width="1" height="57" fill="#000"/><rect x="891" y="454" width="5" height="23" fill="#000"/><rect x="892" y="455" width="3" height="21" fill="#00ff00"/><rect x="901" y="467" width="1" height="18" fill="#000"/><rect x="899" y="477" width="5" height="2" fill="#000"/><rect x="909" y="477" width="1" height="29" fill="#000"/><rect x="907" y="488" width="5" height="15" fill="#000"/><rect x="908" y="489" width="3" height="13" fill="#00ff00"/><rect x="917" y="472" width="1" height="32" fill="#000"/><rect x="915" y="496" width="5" height="7" fill="#000"/><rect x="916" y="497" width="3" height="5" fill="#ff0000"/><rect x="925" y="439" width="1" height="37" fill="#000"/><rect x="923" y="468" width="5" height="6" fill="#000"/><rect x="924" y="469" width="3" height="4" fill="#00ff00"/><rect x="933" y="468" width="1" height="21" fill="#000"/><rect x="931" y="471" width="5" height="4" fill="#000"/><rect x="932" y="472" width="3" height="2" fill="#ff0000"/><rect x="941" y="432" width="1" height="37" fill="#000"/><rect x="939" y="433" width="5" height="22" fill="#000"/><rect x="940" y="434" width="3" height="20" fill="#ff0000"/><rect x="949" y="430" width="1" height="24" fill="#000"/><rect x="947" y="433" width="5" height="4" fill="#000"/><rect x="948" y="434" width="3" height="2" fill="#00ff00"/><rect x="957" y="424" width="1" height="26" fill="#000"/><rect x="955" y="433" width="5" height="5" fill="#000"/><rect x="956" y="434" width="3" height="3" fill="#ff0000"/><rect x="965" y="428" width="1" height="47" fill="#000"/><rect x="963" y="433" width="5" height="31" fill="#000"/><rect x="964" y="434" width="3" height="29" fill="#00ff00"/><rect x="973" y="389" width="1" height="54" fill="#000"/><rect x="971" y="400" width="5" height="41" fill="#000"/><rect x="972" y="401" width="3" height="39" fill="#ff0000"/><rect x="981" y="376" width="1" height="29" fill="#000"/><rect x="979" y="382" width="5" height="18" fill="#000"/><rect x="980" y="383" width="3" height="16" fill="#ff0000"/><rect x="989" y="369" width="1" height="20" fill="#000"/><rect x="987" y="373" width="5" height="1" fill="#000"/><rect x="997" y="370" width="1" height="18" fill="#000"/><rect x="995" y="374" width="5" height="11" fill="#000"/><rect x="996" y="375" width="3" height="9" fill="#00ff00"/><rect x="1005" y="404" width="1" height="42" fill="#000"/><rect x="1003" y="407" width="5" height="35" fill="#000"/><rect x="1004" y="408" width="3" height="33" fill="#00ff00"/><rect x="1013" y="423" width="1" height="25" fill="#000"/><rect x="1011" y="428" width="5" height="15" fill="#000"/><rect x="1012" y="429" width="3" height="13" fill="#ff0000"/><rect x="1021" y="417" width="1" height="35" fill="#000"/><rect x="1019" y="417" width="5" height="18" fill="#000"/><rect x="1020" y="418" width="3" height="16" fill="#00ff00"/><rect x="1029" y="416" width="1" height="24" fill="#00ff00"/><rect x="1027" y="434" width="5" height="1" fill="#00ff00"/><rect x="1037" y="425" width="1" height="36" fill="#000"/><rect x="1035" y="449" width="5" height="7" fill="#000"/><rect x="1036" y="450" width="3" height="5" fill="#00ff00"/><rect x="1045" y="431" width="1" height="33" fill="#000"/><rect x="1043" y="434" width="5" height="22" fill="#000"/><rect x="1044" y="435" width="3" height="20" fill="#ff0000"/><rect x="1053" y="401" width="1" height="42" fill="#000"/><rect x="1051" y="418" width="5" height="21" fill="#000"/><rect x="1052" y="419" width="3" height="19" fill="#00ff00"/><rect x="1061" y="425" width="1" height="57" fill="#000"/><rect x="1059" y="437" width="5" height="37" fill="#000"/><rect x="1060" y="438" width="3" height="35" fill="#00ff00"/><rect x="1069" y="427" width="1" height="57" fill="#000"/><rect x="1067" y="458" width="5" height="16" fill="#000"/><rect x="1068" y="459" width="3" height="14" fill="#ff0000"/><rect x="1077" y="457" width="1" height="22" fill="#000"/><rect x="1075" y="457" width="5" height="5" fill="#000"/><rect x="1076" y="458" width="3" height="3" fill="#00ff00"/><rect x="1085" y="456" width="1" height="43" fill="#000"/><rect x="1083" y="483" width="5" height="10" fill="#000"/><rect x="1084" y="484" width="3" height="8" fill="#ff0000"/><rect x="1093" y="476" width="1" height="24" fill="#000"/><rect x="1091" y="482" width="5" height="8" fill="#000"/><rect x="1092" y="483" width="3" height="6" fill="#00ff00"/><rect x="1101" y="358" width="1" height="49" fill="#000"/><rect x="1099" y="358" width="5" height="49" fill="#000"/><rect x="1100" y="359" width="3" height="47" fill="#ff0000"/><rect x="1109" y="342" width="1" height="23" fill="#000"/><rect x="1107" y="344" width="5" height="14" fill="#000"/><rect x="1108" y="345" width="3" height="12" fill="#ff0000"/><rect x="1117" y="347" width="1" height="17" fill="#000"/><rect x="1115" y="353" width="5" height="8" fill="#000"/><rect x="1116" y="354" width="3" height="6" fill="#00ff00"/><rect x="1125" y="355" width="1" height="19" fill="#000"/><rect x="1123" y="358" width="5" height="2" fill="#000"/><rect x="1133" y="329" width="1" height="26" fill="#000"/><rect x="1131" y="338" width="5" height="8" fill="#000"/><rect x="1132" y="339" width="3" height="6" fill="#ff0000"/><rect x="1141" y="335" width="1" height="48" fill="#000"/><rect x="1139" y="337" width="5" height="29" fill="#000"/><rect x="1140" y="338" width="3" height="27" fill="#00ff00"/><rect x="1149" y="266" width="1" height="118" fill="#000"/><rect x="1147" y="266" width="5" height="115" fill="#000"/><rect x="1148" y="267" width="3" height="113" fill="#ff0000"/><rect x="1157" y="228" width="1" height="40" fill="#000"/><rect x="1155" y="239" width="5" height="28" fill="#000"/><rect x="1156" y="240" width="3" height="26" fill="#ff0000"/><rect x="1165" y="147" width="1" height="62" fill="#000"/><rect x="1163" y="190" width="5" height="9" fill="#000"/><rect x="1164" y="191" width="3" height="7" fill="#00ff00"/><rect x="1173" y="195" width="1" height="35" fill="#000"/><rect x="1171" y="198" width="5" height="22" fill="#000"/><rect x="1172" y="199" width="3" height="20" fill="#00ff00"/><rect x="1181" y="191" width="1" height="40" fill="#000"/><rect x="1179" y="219" width="5" height="6" fill="#000"/><rect x="1180" y="220" width="3" height="4" fill="#ff0000"/><rect x="1189" y="219" width="1" height="36" fill="#000"/><rect x="1187" y="219" width="5" height="21" fill="#000"/><rect x="1188" y="220" width="3" height="19" fill="#00ff00"/><rect x="1197" y="222" width="1" height="61" fill="#000"/><rect x="1195" y="251" width="5" height="31" fill="#000"/><rect x="1196" y="252" width="3" height="29" fill="#00ff00"/><rect x="1205" y="262" width="1" height="29" fill="#000"/><rect x="1203" y="279" width="5" height="3" fill="#000"/><rect x="1204" y="280" width="3" height="1" fill="#ff0000"/><rect x="1213" y="258" width="1" height="28" fill="#000"/><rect x="1211" y="277" width="5" height="5" fill="#000"/><rect x="1212" y="278" width="3" height="3" fill="#ff0000"/><rect x="1221" y="237" width="1" height="42" fill="#000"/><rect x="1219" y="238" width="5" height="39" fill="#000"/><rect x="1220" y="239" width="3" height="37" fill="#ff0000"/><rect x="1229" y="158" width="1" height="72" fill="#000"/><rect x="1227" y="195" width="5" height="6" fill="#000"/><rect x="1228" y="196" width="3" height="4" fill="#00ff00"/><rect x="1237" y="166" width="1" height="53" fill="#000"/><rect x="1235" y="200" width="5" height="16" fill="#000"/><rect x="1236" y="201" width="3" height="14" fill="#00ff00"/><rect x="1245" y="232" width="1" height="22" fill="#000"/><rect x="1243" y="233" width="5" height="16" fill="#000"/><rect x="1244" y="234" width="3" height="14" fill="#00ff00"/><rect x="1253" y="243" width="1" height="21" fill="#000"/><rect x="1251" y="244" width="5" height="5" fill="#000"/><rect x="1252" y="245" width="3" height="3" fill="#ff0000"/><rect x="1261" y="231" width="1" height="52" fill="#000"/><rect x="1259" y="246" width="5" height="16" fill="#000"/><rect x="1260" y="247" width="3" height="14" fill="#ff0000"/><rect x="1269" y="240" width="1" height="32" fill="#000"/><rect x="1267" y="249" width="5" height="18" fill="#000"/><rect x="1268" y="250" width="3" height="16" fill="#00ff00"/><rect x="1277" y="256" width="1" height="22" fill="#000"/><rect x="1275" y="272" width="5" height="6" fill="#000"/><rect x="1276" y="273" width="3" height="4" fill="#ff0000"/><rect x="1285" y="262" width="1" height="22" fill="#000"/><rect x="1283" y="271" width="5" height="2" fill="#000"/></g><rect x="5" y="145" width="1617" height="3" fill="#000"/><rect x="5" y="221" width="1617" height="3" fill="#000"/><rect x="5" y="291" width="1617" height="3" fill="#0000cd"/><g shape-rendering="geometricPrecision"><line x1="1278.5" y1="226.5" x2="1311" y2="308" stroke="#ff0000" stroke-width="6.5" stroke-linecap="round"/><polygon points="1300.5,313 1322.5,304.5 1324.8,341.5" fill="#ff0000"/></g><g clip-path="url(#cd)"><rect x="4" y="611" width="3" height="37" fill="#00ff00"/><rect x="12" y="615" width="3" height="33" fill="#00ff00"/><rect x="20" y="621" width="3" height="27" fill="#00ff00"/><rect x="28" y="624" width="3" height="24" fill="#00ff00"/><rect x="36" y="625" width="3" height="23" fill="#00ff00"/><rect x="44" y="622" width="3" height="26" fill="#00ff00"/><rect x="52" y="617" width="3" height="31" fill="#00ff00"/><rect x="60" y="612" width="3" height="36" fill="#00ff00"/><rect x="68" y="608" width="3" height="40" fill="#00ff00"/><rect x="76" y="608" width="3" height="40" fill="#00ff00"/><rect x="84" y="610" width="3" height="38" fill="#00ff00"/><rect x="92" y="617" width="3" height="31" fill="#00ff00"/><rect x="100" y="621" width="3" height="27" fill="#00ff00"/><rect x="108" y="629" width="3" height="19" fill="#00ff00"/><rect x="116" y="640" width="3" height="8" fill="#00ff00"/><rect x="124" y="648" width="3" height="5" fill="#00ff00"/><rect x="132" y="648" width="3" height="19" fill="#00ff00"/><rect x="140" y="648" width="3" height="32" fill="#00ff00"/><rect x="148" y="648" width="3" height="42" fill="#00ff00"/><rect x="156" y="648" width="3" height="49" fill="#00ff00"/><rect x="164" y="648" width="3" height="55" fill="#00ff00"/><rect x="172" y="648" width="3" height="58" fill="#00ff00"/><rect x="180" y="648" width="3" height="56" fill="#00ff00"/><rect x="188" y="648" width="3" height="50" fill="#00ff00"/><rect x="196" y="648" width="3" height="44" fill="#00ff00"/><rect x="204" y="648" width="3" height="39" fill="#00ff00"/><rect x="212" y="648" width="3" height="34" fill="#00ff00"/><rect x="220" y="648" width="3" height="33" fill="#00ff00"/><rect x="228" y="648" width="3" height="31" fill="#00ff00"/><rect x="236" y="648" width="3" height="23" fill="#00ff00"/><rect x="244" y="648" width="3" height="17" fill="#00ff00"/><rect x="252" y="648" width="3" height="9" fill="#00ff00"/><rect x="260" y="648" width="3" height="10" fill="#00ff00"/><rect x="268" y="648" width="3" height="15" fill="#00ff00"/><rect x="276" y="648" width="3" height="18" fill="#00ff00"/><rect x="284" y="648" width="3" height="19" fill="#00ff00"/><rect x="292" y="648" width="3" height="23" fill="#00ff00"/><rect x="300" y="648" width="3" height="28" fill="#00ff00"/><rect x="308" y="648" width="3" height="35" fill="#00ff00"/><rect x="316" y="648" width="3" height="41" fill="#00ff00"/><rect x="324" y="648" width="3" height="37" fill="#00ff00"/><rect x="332" y="648" width="3" height="33" fill="#00ff00"/><rect x="340" y="648" width="3" height="31" fill="#00ff00"/><rect x="348" y="648" width="3" height="32" fill="#00ff00"/><rect x="356" y="648" width="3" height="33" fill="#00ff00"/><rect x="364" y="648" width="3" height="32" fill="#00ff00"/><rect x="372" y="648" width="3" height="32" fill="#00ff00"/><rect x="380" y="648" width="3" height="35" fill="#00ff00"/><rect x="388" y="648" width="3" height="37" fill="#00ff00"/><rect x="396" y="648" width="3" height="37" fill="#00ff00"/><rect x="404" y="648" width="3" height="36" fill="#00ff00"/><rect x="412" y="648" width="3" height="37" fill="#00ff00"/><rect x="420" y="648" width="3" height="43" fill="#00ff00"/><rect x="428" y="648" width="3" height="49" fill="#00ff00"/><rect x="436" y="648" width="3" height="59" fill="#00ff00"/><rect x="444" y="648" width="3" height="67" fill="#00ff00"/><rect x="452" y="648" width="3" height="73" fill="#00ff00"/><rect x="460" y="648" width="3" height="78" fill="#00ff00"/><rect x="468" y="648" width="3" height="79" fill="#00ff00"/><rect x="476" y="648" width="3" height="82" fill="#00ff00"/><rect x="484" y="648" width="3" height="82" fill="#00ff00"/><rect x="492" y="648" width="3" height="86" fill="#00ff00"/><rect x="500" y="648" width="3" height="84" fill="#00ff00"/><rect x="508" y="648" width="3" height="86" fill="#00ff00"/><rect x="516" y="648" width="3" height="86" fill="#00ff00"/><rect x="524" y="648" width="3" height="82" fill="#00ff00"/><rect x="532" y="648" width="3" height="80" fill="#00ff00"/><rect x="540" y="648" width="3" height="70" fill="#00ff00"/><rect x="548" y="648" width="3" height="62" fill="#00ff00"/><rect x="556" y="648" width="3" height="57" fill="#00ff00"/><rect x="564" y="648" width="3" height="53" fill="#00ff00"/><rect x="572" y="648" width="3" height="48" fill="#00ff00"/><rect x="580" y="648" width="3" height="50" fill="#00ff00"/><rect x="588" y="648" width="3" height="52" fill="#00ff00"/><rect x="596" y="648" width="3" height="54" fill="#00ff00"/><rect x="604" y="648" width="3" height="54" fill="#00ff00"/><rect x="612" y="648" width="3" height="50" fill="#00ff00"/><rect x="620" y="648" width="3" height="46" fill="#00ff00"/><rect x="628" y="648" width="3" height="40" fill="#00ff00"/><rect x="636" y="648" width="3" height="35" fill="#00ff00"/><rect x="644" y="648" width="3" height="30" fill="#00ff00"/><rect x="652" y="648" width="3" height="24" fill="#00ff00"/><rect x="660" y="648" width="3" height="17" fill="#00ff00"/><rect x="668" y="648" width="3" height="8" fill="#00ff00"/><rect x="676" y="648" width="3" height="5" fill="#00ff00"/><rect x="684" y="646" width="3" height="2" fill="#00ff00"/><rect x="692" y="635" width="3" height="13" fill="#00ff00"/><rect x="700" y="629" width="3" height="19" fill="#00ff00"/><rect x="708" y="621" width="3" height="27" fill="#00ff00"/><rect x="716" y="620" width="3" height="28" fill="#00ff00"/><rect x="724" y="619" width="3" height="29" fill="#00ff00"/><rect x="732" y="619" width="3" height="29" fill="#00ff00"/><rect x="740" y="620" width="3" height="28" fill="#00ff00"/><rect x="748" y="624" width="3" height="24" fill="#00ff00"/><rect x="756" y="633" width="3" height="15" fill="#00ff00"/><rect x="764" y="644" width="3" height="4" fill="#00ff00"/><rect x="772" y="648" width="3" height="8" fill="#00ff00"/><rect x="780" y="648" width="3" height="14" fill="#00ff00"/><rect x="788" y="648" width="3" height="17" fill="#00ff00"/><rect x="796" y="648" width="3" height="22" fill="#00ff00"/><rect x="804" y="648" width="3" height="23" fill="#00ff00"/><rect x="812" y="648" width="3" height="26" fill="#00ff00"/><rect x="820" y="648" width="3" height="27" fill="#00ff00"/><rect x="828" y="648" width="3" height="23" fill="#00ff00"/><rect x="836" y="648" width="3" height="21" fill="#00ff00"/><rect x="844" y="648" width="3" height="12" fill="#00ff00"/><rect x="852" y="648" width="3" height="6" fill="#00ff00"/><rect x="860" y="648" width="3" height="2" fill="#00ff00"/><rect x="868" y="643" width="3" height="5" fill="#00ff00"/><rect x="876" y="643" width="3" height="5" fill="#00ff00"/><rect x="884" y="644" width="3" height="4" fill="#00ff00"/><rect x="892" y="648" width="3" height="2" fill="#00ff00"/><rect x="900" y="648" width="3" height="4" fill="#00ff00"/><rect x="908" y="648" width="3" height="11" fill="#00ff00"/><rect x="916" y="648" width="3" height="14" fill="#00ff00"/><rect x="924" y="648" width="3" height="15" fill="#00ff00"/><rect x="932" y="648" width="3" height="14" fill="#00ff00"/><rect x="940" y="648" width="3" height="10" fill="#00ff00"/><rect x="948" y="648" width="3" height="6" fill="#00ff00"/><rect x="956" y="648" width="3" height="4" fill="#00ff00"/><rect x="964" y="648" width="3" height="4" fill="#00ff00"/><rect x="972" y="645" width="3" height="3" fill="#00ff00"/><rect x="980" y="638" width="3" height="10" fill="#00ff00"/><rect x="988" y="632" width="3" height="16" fill="#00ff00"/><rect x="996" y="629" width="3" height="19" fill="#00ff00"/><rect x="1004" y="633" width="3" height="15" fill="#00ff00"/><rect x="1012" y="634" width="3" height="14" fill="#00ff00"/><rect x="1020" y="636" width="3" height="12" fill="#00ff00"/><rect x="1028" y="638" width="3" height="10" fill="#00ff00"/><rect x="1036" y="642" width="3" height="6" fill="#00ff00"/><rect x="1044" y="643" width="3" height="5" fill="#00ff00"/><rect x="1052" y="644" width="3" height="4" fill="#00ff00"/><rect x="1060" y="647" width="3" height="1" fill="#00ff00"/><rect x="1068" y="648" width="3" height="3" fill="#00ff00"/><rect x="1076" y="648" width="3" height="5" fill="#00ff00"/><rect x="1084" y="648" width="3" height="9" fill="#00ff00"/><rect x="1092" y="648" width="3" height="13" fill="#00ff00"/><rect x="1100" y="648" width="3" height="1" fill="#00ff00"/><rect x="1108" y="638" width="3" height="10" fill="#00ff00"/><rect x="1116" y="631" width="3" height="17" fill="#00ff00"/><rect x="1124" y="626" width="3" height="22" fill="#00ff00"/><rect x="1132" y="620" width="3" height="28" fill="#00ff00"/><rect x="1140" y="619" width="3" height="29" fill="#00ff00"/><rect x="1148" y="607" width="3" height="41" fill="#00ff00"/><rect x="1156" y="596" width="3" height="52" fill="#00ff00"/><rect x="1164" y="583" width="3" height="65" fill="#00ff00"/><rect x="1172" y="576" width="3" height="72" fill="#00ff00"/><rect x="1180" y="571" width="3" height="77" fill="#00ff00"/><rect x="1188" y="571" width="3" height="77" fill="#00ff00"/><rect x="1196" y="576" width="3" height="72" fill="#00ff00"/><rect x="1204" y="580" width="3" height="68" fill="#00ff00"/><rect x="1212" y="584" width="3" height="64" fill="#00ff00"/><rect x="1220" y="584" width="3" height="64" fill="#00ff00"/><rect x="1228" y="580" width="3" height="68" fill="#00ff00"/><rect x="1236" y="580" width="3" height="68" fill="#00ff00"/><rect x="1244" y="584" width="3" height="64" fill="#00ff00"/><rect x="1252" y="587" width="3" height="61" fill="#00ff00"/><rect x="1260" y="591" width="3" height="57" fill="#00ff00"/><rect x="1268" y="596" width="3" height="52" fill="#00ff00"/><rect x="1276" y="602" width="3" height="46" fill="#00ff00"/><rect x="1284" y="607" width="3" height="41" fill="#00ff00"/><polyline points="5,605.4 13,605.4 21,607.0 29,610.0 37,613.8 45,615.9 53,617.0 61,617.0 69,617.0 77,617.0 85,616.4 93,616.0 101,616.0 109,616.0 117,618.5 125,622.0 133,628.0 141,636.0 149,646.0 157,655.5 165,665.0 173,673.5 181,682.0 189,689.0 197,692.5 205,694.0 213,694.0 221,694.0 229,691.6 237,688.0 245,682.7 253,678.4 261,674.5 269,671.4 277,668.2 285,667.4 293,665.6 301,665.1 309,666.1 317,669.3 325,672.6 333,675.6 341,677.6 349,678.5 357,680.8 365,681.0 373,681.0 381,681.0 389,681.0 397,681.0 405,681.5 413,682.0 421,683.0 429,685.1 437,688.0 445,691.9 453,696.1 461,700.3 469,705.5 477,710.2 485,715.4 493,720.4 501,724.3 509,727.5 517,729.5 525,729.9 533,729.9 541,729.9 549,727.5 557,724.0 565,719.2 573,715.3 581,712.0 589,708.8 597,705.4 605,702.2 613,700.4 621,698.6 629,696.8 637,694.6 645,692.8 653,690.4 661,686.0 669,681.3 677,675.6 685,670.2 693,664.3 701,657.7 709,650.3 717,644.4 725,638.5 733,634.0 741,629.8 749,626.7 757,624.9 765,625.1 773,628.2 781,633.7 789,638.5 797,643.4 805,648.3 813,655.4 821,660.4 829,664.5 837,667.3 845,667.7 853,667.3 861,665.2 869,662.3 877,659.2 885,656.0 893,653.1 901,651.3 909,650.8 917,650.3 925,651.3 933,653.4 941,654.8 949,655.5 957,655.8 965,655.8 973,654.8 981,653.4 989,650.7 997,646.8 1005,643.4 1013,641.3 1021,639.2 1029,637.1 1037,636.6 1045,636.1 1053,637.1 1061,638.2 1069,640.8 1077,643.4 1085,645.5 1093,648.6 1101,648.9 1109,648.9 1117,648.9 1125,646.0 1133,642.6 1141,639.5 1149,634.5 1157,627.7 1165,620.4 1173,612.1 1181,603.2 1189,597.4 1197,591.1 1205,586.4 1213,583.6 1221,580.2 1229,578.4 1237,578.1 1245,579.6 1253,580.7 1261,583.8 1269,585.7 1277,587.8 1285,589.9" fill="none" stroke="#ff0000" stroke-width="2" stroke-linejoin="round"/></g><rect x="4" y="4" width="1619" height="1" fill="#000"/><rect x="4" y="559" width="1619" height="1" fill="#000"/><rect x="4" y="4" width="1" height="556" fill="#000"/><rect x="1622" y="4" width="1" height="556" fill="#000"/><rect x="4" y="561" width="1619" height="1" fill="#000"/><rect x="4" y="742" width="1619" height="1" fill="#000"/><rect x="4" y="561" width="1" height="182" fill="#000"/><rect x="1622" y="561" width="1" height="182" fill="#000"/><polygon points="1292.5,5 1302.5,5 1297.5,10" fill="#778899" shape-rendering="geometricPrecision"/><rect x="1623" y="28" width="2" height="1" fill="#000"/><rect x="1623" y="61" width="2" height="1" fill="#000"/><rect x="1623" y="94" width="2" height="1" fill="#000"/><rect x="1623" y="127" width="2" height="1" fill="#000"/><rect x="1623" y="160" width="2" height="1" fill="#000"/><rect x="1623" y="193" width="2" height="1" fill="#000"/><rect x="1623" y="226" width="2" height="1" fill="#000"/><rect x="1623" y="259" width="2" height="1" fill="#000"/><rect x="1623" y="292" width="2" height="1" fill="#000"/><rect x="1623" y="325" width="2" height="1" fill="#000"/><rect x="1623" y="358" width="2" height="1" fill="#000"/><rect x="1623" y="391" width="2" height="1" fill="#000"/><rect x="1623" y="424" width="2" height="1" fill="#000"/><rect x="1623" y="457" width="2" height="1" fill="#000"/><rect x="1623" y="490" width="2" height="1" fill="#000"/><rect x="1623" y="523" width="2" height="1" fill="#000"/><rect x="1623" y="556" width="2" height="1" fill="#000"/><rect x="1623" y="563" width="2" height="1" fill="#000"/><rect x="1623" y="648" width="2" height="1" fill="#000"/><rect x="1623" y="741" width="2" height="1" fill="#000"/><rect x="5" y="743" width="1" height="3" fill="#000"/><rect x="69" y="743" width="1" height="3" fill="#000"/><rect x="133" y="743" width="1" height="3" fill="#000"/><rect x="197" y="743" width="1" height="3" fill="#000"/><rect x="261" y="743" width="1" height="3" fill="#000"/><rect x="325" y="743" width="1" height="3" fill="#000"/><rect x="389" y="743" width="1" height="3" fill="#000"/><rect x="453" y="743" width="1" height="3" fill="#000"/><rect x="517" y="743" width="1" height="3" fill="#000"/><rect x="581" y="743" width="1" height="3" fill="#000"/><rect x="645" y="743" width="1" height="3" fill="#000"/><rect x="709" y="743" width="1" height="3" fill="#000"/><rect x="773" y="743" width="1" height="3" fill="#000"/><rect x="837" y="743" width="1" height="3" fill="#000"/><rect x="901" y="743" width="1" height="3" fill="#000"/><rect x="965" y="743" width="1" height="3" fill="#000"/><rect x="1029" y="743" width="1" height="3" fill="#000"/><rect x="1093" y="743" width="1" height="3" fill="#000"/><rect x="1157" y="743" width="1" height="3" fill="#000"/><rect x="1221" y="743" width="1" height="3" fill="#000"/><rect x="1285" y="743" width="1" height="3" fill="#000"/><polygon points="8,11 15,11 11.5,14.5" fill="#000" shape-rendering="geometricPrecision"/><defs><clipPath id="cax2"><rect x="0" y="0" width="1654" height="765"/></clipPath></defs><g font-family='"Liberation Sans", sans-serif' text-rendering="geometricPrecision" shape-rendering="geometricPrecision" clip-path="url(#cax2)"><text x="1627.5" y="32" fill="#000" stroke="#000" stroke-width="0.05" font-size="10.2px" textLength="27.30" lengthAdjust="spacingAndGlyphs">4173.0</text><text x="1627.5" y="65" fill="#000" stroke="#000" stroke-width="0.05" font-size="10.2px" textLength="27.30" lengthAdjust="spacingAndGlyphs">4147.0</text><text x="1627.5" y="98" fill="#000" stroke="#000" stroke-width="0.05" font-size="10.2px" textLength="27.30" lengthAdjust="spacingAndGlyphs">4121.0</text><text x="1627.5" y="131" fill="#000" stroke="#000" stroke-width="0.05" font-size="10.2px" textLength="27.30" lengthAdjust="spacingAndGlyphs">4095.0</text><text x="1627.5" y="164" fill="#000" stroke="#000" stroke-width="0.05" font-size="10.2px" textLength="27.30" lengthAdjust="spacingAndGlyphs">4069.0</text><text x="1627.5" y="197" fill="#000" stroke="#000" stroke-width="0.05" font-size="10.2px" textLength="27.30" lengthAdjust="spacingAndGlyphs">4043.0</text><text x="1627.5" y="230" fill="#000" stroke="#000" stroke-width="0.05" font-size="10.2px" textLength="27.30" lengthAdjust="spacingAndGlyphs">4017.0</text><text x="1627.5" y="263" fill="#000" stroke="#000" stroke-width="0.05" font-size="10.2px" textLength="27.30" lengthAdjust="spacingAndGlyphs">3991.0</text><text x="1627.5" y="296" fill="#000" stroke="#000" stroke-width="0.05" font-size="10.2px" textLength="27.30" lengthAdjust="spacingAndGlyphs">3965.0</text><text x="1627.5" y="329" fill="#000" stroke="#000" stroke-width="0.05" font-size="10.2px" textLength="27.30" lengthAdjust="spacingAndGlyphs">3939.0</text><text x="1627.5" y="362" fill="#000" stroke="#000" stroke-width="0.05" font-size="10.2px" textLength="27.30" lengthAdjust="spacingAndGlyphs">3913.0</text><text x="1627.5" y="395" fill="#000" stroke="#000" stroke-width="0.05" font-size="10.2px" textLength="27.30" lengthAdjust="spacingAndGlyphs">3887.0</text><text x="1627.5" y="428" fill="#000" stroke="#000" stroke-width="0.05" font-size="10.2px" textLength="27.30" lengthAdjust="spacingAndGlyphs">3861.0</text><text x="1627.5" y="461" fill="#000" stroke="#000" stroke-width="0.05" font-size="10.2px" textLength="27.30" lengthAdjust="spacingAndGlyphs">3835.0</text><text x="1627.5" y="494" fill="#000" stroke="#000" stroke-width="0.05" font-size="10.2px" textLength="27.30" lengthAdjust="spacingAndGlyphs">3809.0</text><text x="1627.5" y="527" fill="#000" stroke="#000" stroke-width="0.05" font-size="10.2px" textLength="27.30" lengthAdjust="spacingAndGlyphs">3783.0</text><text x="1627.5" y="560" fill="#000" stroke="#000" stroke-width="0.05" font-size="10.2px" textLength="27.30" lengthAdjust="spacingAndGlyphs">3757.0</text><text x="1625.5" y="572" fill="#000" stroke="#000" stroke-width="0.05" font-size="10.2px" textLength="23.68" lengthAdjust="spacingAndGlyphs">49.42</text><text x="1625.5" y="652" fill="#000" stroke="#000" stroke-width="0.05" font-size="10.2px" textLength="18.51" lengthAdjust="spacingAndGlyphs">0.00</text><text x="1625.5" y="739" fill="#000" stroke="#000" stroke-width="0.05" font-size="10.2px" textLength="26.20" lengthAdjust="spacingAndGlyphs">-54.17</text></g><rect x="1624" y="140" width="36" height="11" fill="#000"/><rect x="1624" y="216" width="36" height="11" fill="#000"/><rect x="1624" y="267" width="36" height="11" fill="#000"/><rect x="1624" y="286" width="36" height="11" fill="#0000cd"/><g font-family='"Liberation Sans", sans-serif' text-rendering="geometricPrecision" shape-rendering="geometricPrecision" clip-path="url(#cax2)"><text x="1627.5" y="149" fill="#fff" stroke="#fff" stroke-width="0.05" font-size="10.2px" textLength="27.30" lengthAdjust="spacingAndGlyphs">4080.0</text><text x="1627.5" y="225" fill="#fff" stroke="#fff" stroke-width="0.05" font-size="10.2px" textLength="27.30" lengthAdjust="spacingAndGlyphs">4020.0</text><text x="1627.5" y="276" fill="#fff" stroke="#fff" stroke-width="0.05" font-size="10.2px" textLength="27.30" lengthAdjust="spacingAndGlyphs">3980.9</text><text x="1627.5" y="295" fill="#fff" stroke="#fff" stroke-width="0.05" font-size="10.2px" textLength="27.30" lengthAdjust="spacingAndGlyphs">3965.0</text></g><g font-family='"Liberation Sans", sans-serif' text-rendering="geometricPrecision" shape-rendering="geometricPrecision"><text x="4.5" y="755" fill="#000" stroke="#000" stroke-width="0.05" font-size="10.2px" textLength="50.53" lengthAdjust="spacingAndGlyphs">12 Apr 2023</text><text x="68.5" y="755" fill="#000" stroke="#000" stroke-width="0.05" font-size="10.2px" textLength="53.09" lengthAdjust="spacingAndGlyphs">18 Apr 05:00</text><text x="132.5" y="755" fill="#000" stroke="#000" stroke-width="0.05" font-size="10.2px" textLength="53.09" lengthAdjust="spacingAndGlyphs">24 Apr 05:00</text><text x="196.5" y="755" fill="#000" stroke="#000" stroke-width="0.05" font-size="10.2px" textLength="53.09" lengthAdjust="spacingAndGlyphs">28 Apr 05:00</text><text x="260.5" y="755" fill="#000" stroke="#000" stroke-width="0.05" font-size="10.2px" textLength="51.03" lengthAdjust="spacingAndGlyphs">9 May 05:00</text><text x="324.5" y="755" fill="#000" stroke="#000" stroke-width="0.05" font-size="10.2px" textLength="56.15" lengthAdjust="spacingAndGlyphs">15 May 05:00</text><text x="388.5" y="755" fill="#000" stroke="#000" stroke-width="0.05" font-size="10.2px" textLength="56.15" lengthAdjust="spacingAndGlyphs">19 May 05:00</text><text x="452.5" y="755" fill="#000" stroke="#000" stroke-width="0.05" font-size="10.2px" textLength="56.15" lengthAdjust="spacingAndGlyphs">25 May 05:00</text><text x="516.5" y="755" fill="#000" stroke="#000" stroke-width="0.05" font-size="10.2px" textLength="56.15" lengthAdjust="spacingAndGlyphs">31 May 05:00</text><text x="580.5" y="755" fill="#000" stroke="#000" stroke-width="0.05" font-size="10.2px" textLength="48.49" lengthAdjust="spacingAndGlyphs">6 Jun 05:00</text><text x="644.5" y="755" fill="#000" stroke="#000" stroke-width="0.05" font-size="10.2px" textLength="53.60" lengthAdjust="spacingAndGlyphs">12 Jun 05:00</text><text x="708.5" y="755" fill="#000" stroke="#000" stroke-width="0.05" font-size="10.2px" textLength="53.60" lengthAdjust="spacingAndGlyphs">16 Jun 05:00</text><text x="772.5" y="755" fill="#000" stroke="#000" stroke-width="0.05" font-size="10.2px" textLength="53.60" lengthAdjust="spacingAndGlyphs">26 Jun 05:00</text><text x="836.5" y="755" fill="#000" stroke="#000" stroke-width="0.05" font-size="10.2px" textLength="53.60" lengthAdjust="spacingAndGlyphs">30 Jun 05:00</text><text x="900.5" y="755" fill="#000" stroke="#000" stroke-width="0.05" font-size="10.2px" textLength="45.42" lengthAdjust="spacingAndGlyphs">6 Jul 05:00</text><text x="964.5" y="755" fill="#000" stroke="#000" stroke-width="0.05" font-size="10.2px" textLength="50.53" lengthAdjust="spacingAndGlyphs">12 Jul 05:00</text><text x="1028.5" y="755" fill="#000" stroke="#000" stroke-width="0.05" font-size="10.2px" textLength="50.53" lengthAdjust="spacingAndGlyphs">18 Jul 05:00</text><text x="1092.5" y="755" fill="#000" stroke="#000" stroke-width="0.05" font-size="10.2px" textLength="50.53" lengthAdjust="spacingAndGlyphs">24 Jul 05:00</text><text x="1156.5" y="755" fill="#000" stroke="#000" stroke-width="0.05" font-size="10.2px" textLength="50.53" lengthAdjust="spacingAndGlyphs">28 Jul 05:00</text><text x="1220.5" y="755" fill="#000" stroke="#000" stroke-width="0.05" font-size="10.2px" textLength="50.02" lengthAdjust="spacingAndGlyphs">3 Aug 05:00</text><text x="1284.5" y="755" fill="#000" stroke="#000" stroke-width="0.05" font-size="10.2px" textLength="50.02" lengthAdjust="spacingAndGlyphs">9 Aug 05:00</text><text x="20" y="16" fill="#000" stroke="#000" stroke-width="0.05" font-size="10.2px" textLength="65.00" lengthAdjust="spacingAndGlyphs">CHINA300-,H4</text><text x="90.5" y="16" fill="#000" stroke="#000" stroke-width="0.05" font-size="10.2px" textLength="121.50" lengthAdjust="spacingAndGlyphs">3981.3 3988.9 3972.6 3980.9</text><text x="9" y="574" fill="#000" stroke="#000" stroke-width="0.05" font-size="10.2px" textLength="66.00" lengthAdjust="spacingAndGlyphs">MACD(12,26,9)</text><text x="78" y="574" fill="#000" stroke="#000" stroke-width="0.05" font-size="10.2px" textLength="49.00" lengthAdjust="spacingAndGlyphs">23.75 33.53</text></g><rect x="0" y="0" width="1664" height="1" fill="#a0a0a0"/><rect x="1" y="1" width="1662" height="1" fill="#696969"/><rect x="0" y="0" width="1" height="764" fill="#a0a0a0"/><rect x="1" y="1" width="1" height="762" fill="#696969"/><rect x="1" y="763" width="1662" height="1" fill="#e3e3e3"/><rect x="1663" y="2" width="1" height="762" fill="#e3e3e3"/><rect x="1654" y="0" width="1" height="765" fill="#3c3c46"/><rect x="1655" y="0" width="2" height="765" fill="#ffe83a" fill-opacity="0.85"/></svg>
</body></html>
